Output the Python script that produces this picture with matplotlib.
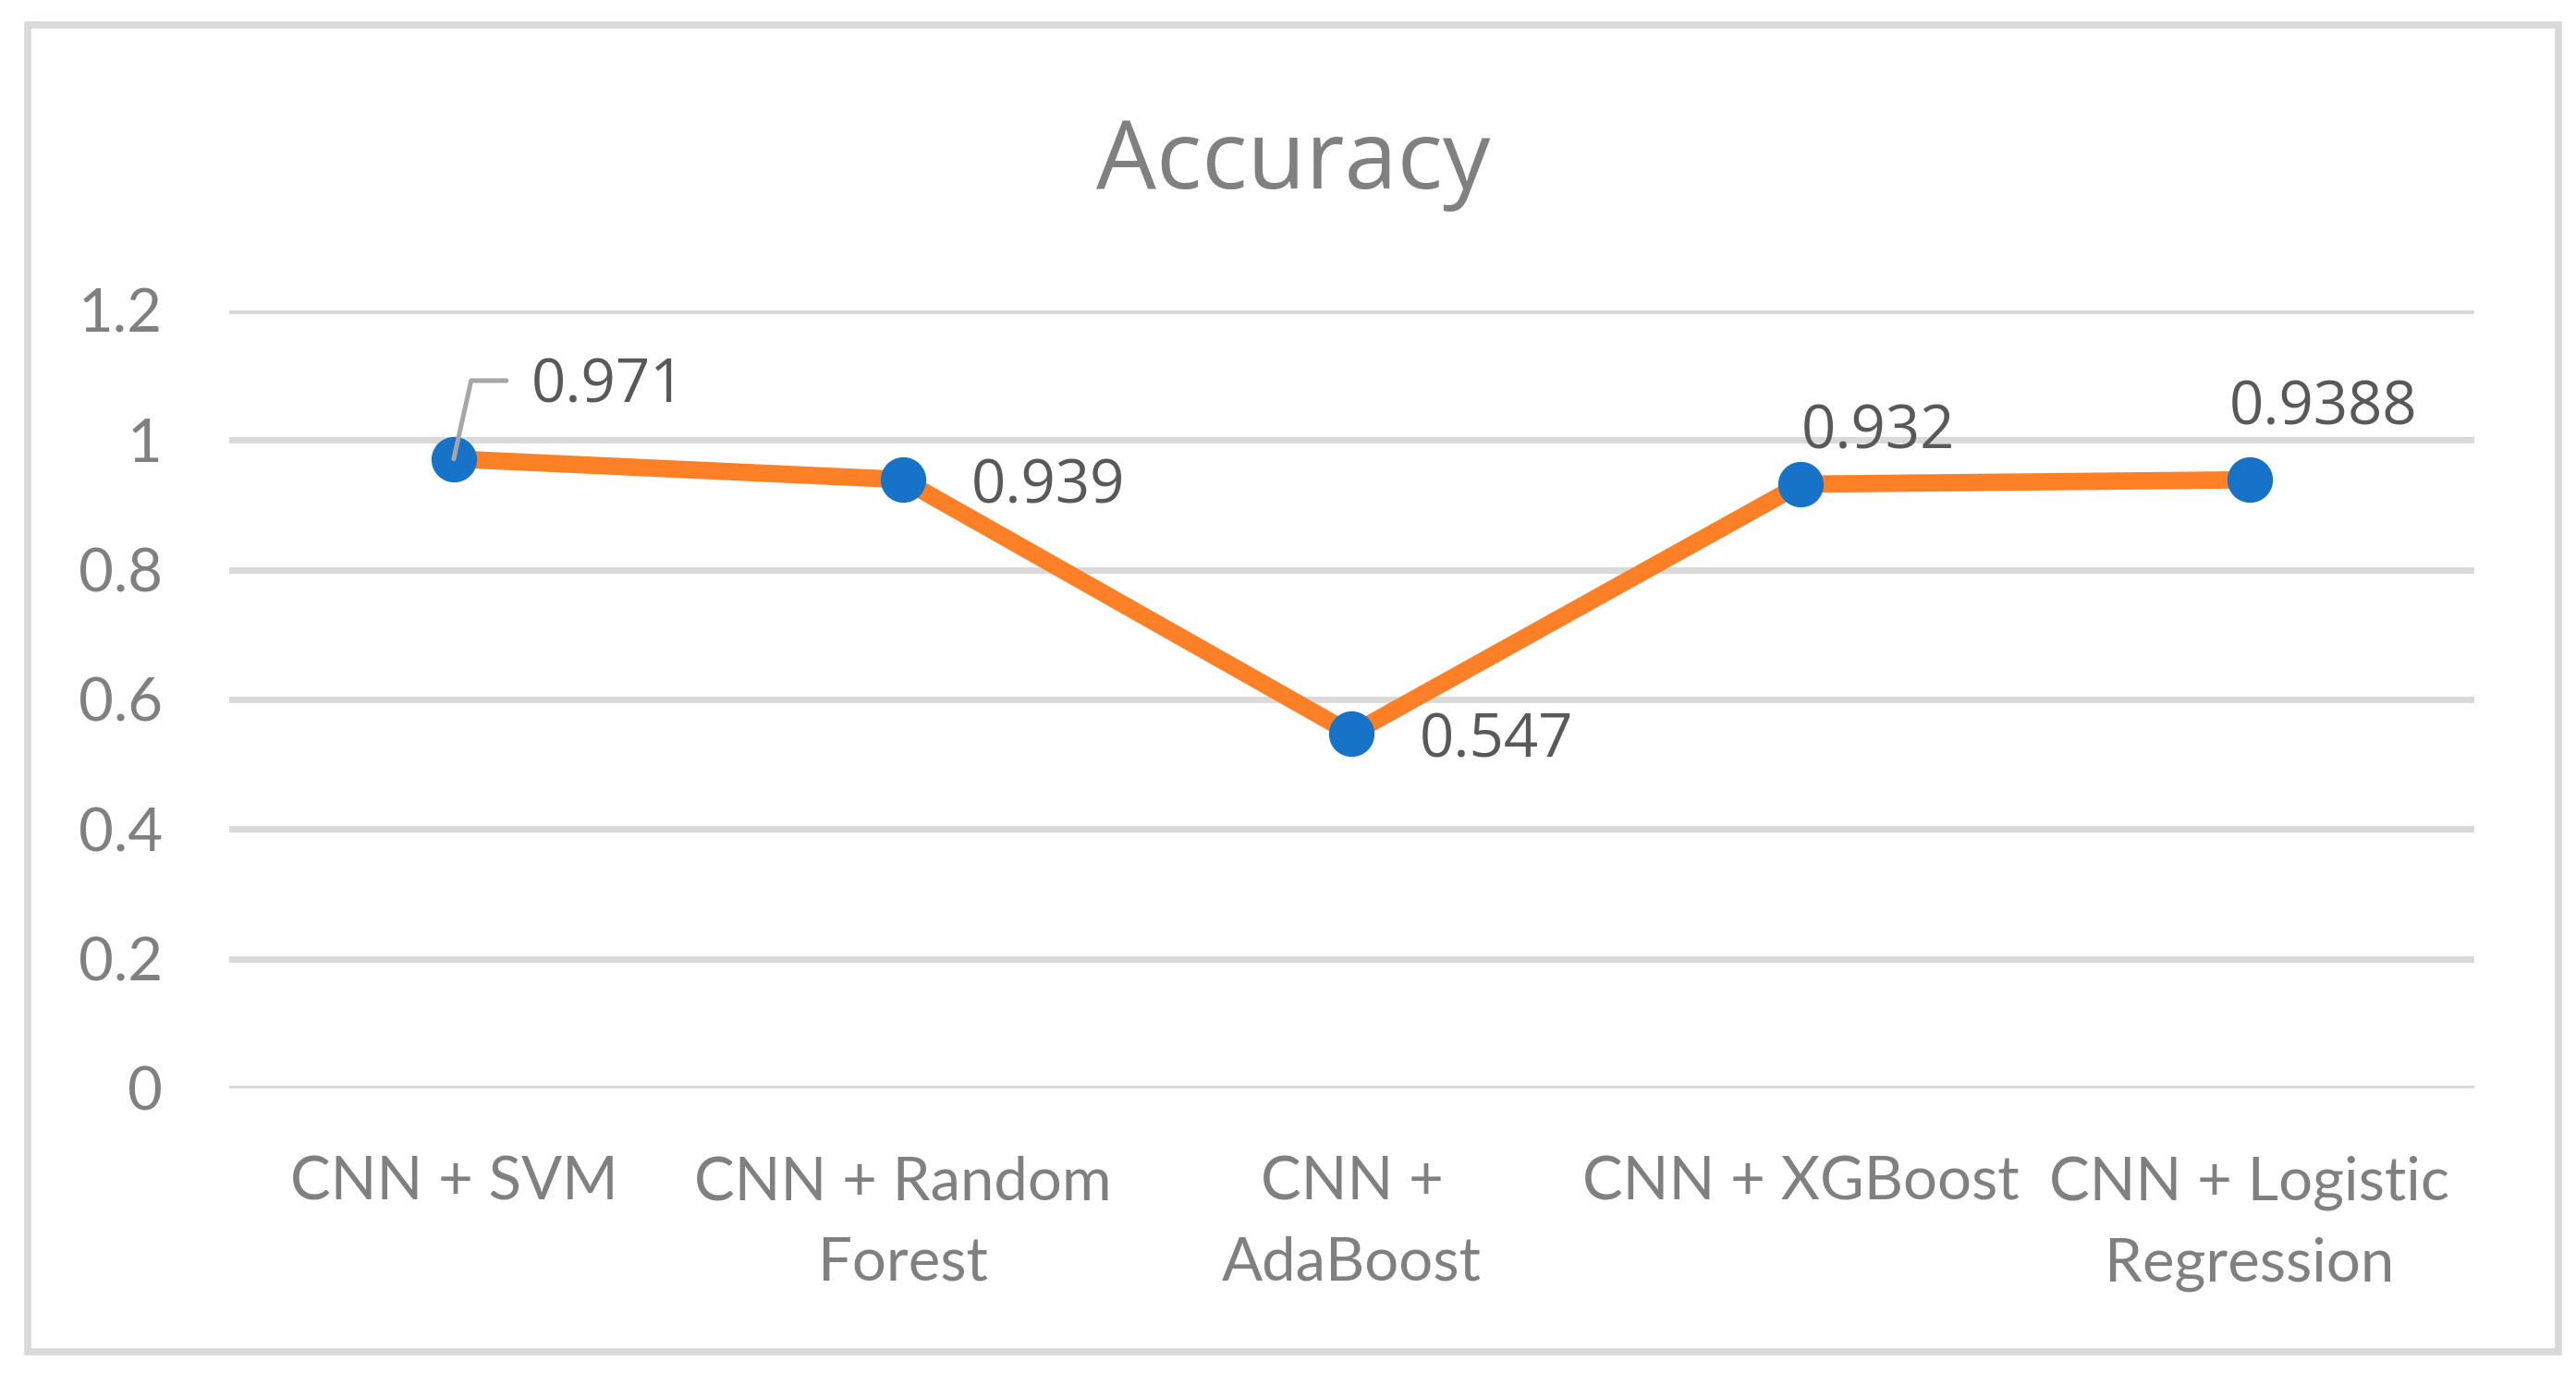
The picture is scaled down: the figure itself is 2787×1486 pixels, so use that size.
import matplotlib.pyplot as plt
from matplotlib.patches import Rectangle

models = ['CNN + SVM', 'CNN + Random\nForest', 'CNN +\nAdaBoost',
          'CNN + XGBoost', 'CNN + Logistic\nRegression']
accuracy = [0.971, 0.939, 0.547, 0.932, 0.9388]
value_labels = ['0.971', '0.939', '0.547', '0.932', '0.9388']
y_ticks = [0, 0.2, 0.4, 0.6, 0.8, 1.0, 1.2]
y_tick_labels = ['0', '0.2', '0.4', '0.6', '0.8', '1', '1.2']

# offsets of the data labels (points) relative to each marker
label_offsets = [(60, 56), (53, -6), (53, -6), (0, 40), (-16, 55)]

tick_color = '#808080'
label_color = '#595959'
grid_color = '#D9D9D9'

fig = plt.figure(figsize=(27.87, 14.86), dpi=100)
ax = fig.add_axes([0.0890, 0.2073, 0.8715, 0.5666])

x = list(range(len(models)))
ax.plot(x, accuracy, color='#FD7F26', linewidth=13.5, solid_capstyle='butt',
        zorder=3, clip_on=False)
ax.plot(x, accuracy, linestyle='none', marker='o', markersize=34.5,
        color='#1773C7', zorder=4, clip_on=False)

ax.set_xlim(-0.5, len(models) - 0.5)
ax.set_ylim(0, 1.2)
ax.set_yticks(y_ticks)
ax.set_yticklabels(y_tick_labels)
ax.set_xticks(x)
ax.set_xticklabels(models, linespacing=1.6)

ax.grid(axis='y', color=grid_color, linewidth=5)
ax.set_axisbelow(True)
for s in ax.spines.values():
    s.set_visible(False)
ax.tick_params(axis='both', length=0, colors=tick_color, labelsize=47)
ax.tick_params(axis='y', pad=52)
ax.tick_params(axis='x', pad=52)
for t in ax.get_xticklabels() + ax.get_yticklabels():
    t.set_fontfamily('Lato')

# leader line for the first label
ax.annotate('', xy=(x[0], accuracy[0]), xytext=(41, 61), textcoords='offset points',
            arrowprops=dict(arrowstyle='-', color='#A6A6A6', lw=3.6,
                            shrinkA=0, shrinkB=0,
                            connectionstyle='angle,angleA=0,angleB=77.5,rad=0'),
            zorder=5, annotation_clip=False)

for xi, yi, txt, off in zip(x, accuracy, value_labels, label_offsets):
    ax.annotate(txt, xy=(xi, yi), xytext=off, textcoords='offset points',
                ha='left', va='center', fontsize=47, color=label_color,
                family='Open Sans', zorder=6, annotation_clip=False)

fig.text(0.502, 0.863, 'Accuracy', ha='center', va='baseline', fontsize=74,
         color=tick_color, family='Open Sans')

fig.patches.append(Rectangle((30 / 2787, 1 - 1463 / 1486), 2738 / 2787, 1436 / 1486,
                             transform=fig.transFigure, fill=False,
                             edgecolor=grid_color, linewidth=5.5))

fig.savefig('out.png', dpi=100, facecolor='white')
